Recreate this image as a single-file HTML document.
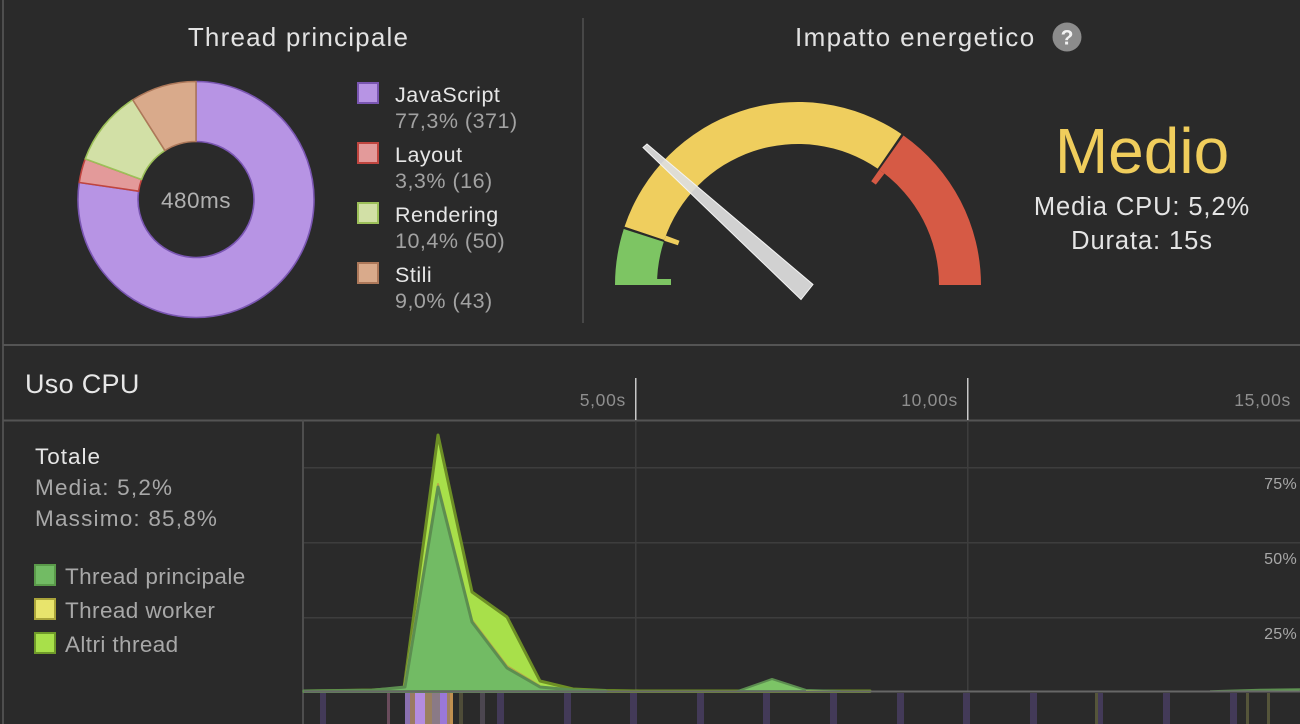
<!DOCTYPE html>
<html><head><meta charset="utf-8"><style>
html,body{margin:0;padding:0;background:#2a2a2a;}
svg{display:block;}
text{font-family:"Liberation Sans",sans-serif;}
</style></head><body>
<svg width="1300" height="724" viewBox="0 0 1300 724" xmlns="http://www.w3.org/2000/svg">
<rect width="1300" height="724" fill="#2a2a2a"/>
<!-- frame lines -->
<rect x="2" y="0" width="2" height="724" fill="#4e4e4e"/>
<rect x="582" y="18" width="2" height="305" fill="#474747"/>
<rect x="3" y="344" width="1297" height="2" fill="#545454"/>
<rect x="3" y="419.5" width="1297" height="2" fill="#545454"/>
<rect x="302" y="420" width="2" height="304" fill="#4e4e4e"/>

<!-- Thread principale -->
<text x="298.5" y="46" text-anchor="middle" font-size="26" letter-spacing="1.2" fill="#e2e2e2">Thread principale</text>
<g stroke-width="1.6" stroke-linejoin="round">
<path d="M196,81.5 A118,118 0 1 1 79.23,182.51 L138.60,191.15 A58,58 0 1 0 196,141.5 Z" fill="#b794e4" stroke="#7a56b2"/>
<path d="M79.23,182.51 A118,118 0 0 1 85.23,158.84 L141.55,179.51 A58,58 0 0 0 138.60,191.15 Z" fill="#e39a9a" stroke="#c0453f"/>
<path d="M85.23,158.84 A118,118 0 0 1 132.77,99.87 L164.92,150.53 A58,58 0 0 0 141.55,179.51 Z" fill="#d2e0a6" stroke="#9cc059"/>
<path d="M132.77,99.87 A118,118 0 0 1 196,81.5 L196,141.5 A58,58 0 0 0 164.92,150.53 Z" fill="#d9aa8b" stroke="#ad785a"/>
</g>
<text x="196" y="208" text-anchor="middle" font-size="22.5" letter-spacing="0.5" fill="#b0b0b0">480ms</text>

<g font-size="21.5" letter-spacing="0.5">
<rect x="358" y="83" width="20" height="20" fill="#b794e4" stroke="#7a56b2" stroke-width="2"/>
<text x="395" y="102" fill="#e6e6e6">JavaScript</text>
<text x="395" y="128" fill="#a2a2a2">77,3% (371)</text>
<rect x="358" y="143" width="20" height="20" fill="#e39a9a" stroke="#c0453f" stroke-width="2"/>
<text x="395" y="162" fill="#e6e6e6">Layout</text>
<text x="395" y="188" fill="#a2a2a2">3,3% (16)</text>
<rect x="358" y="203" width="20" height="20" fill="#d2e0a6" stroke="#9cc059" stroke-width="2"/>
<text x="395" y="222" fill="#e6e6e6">Rendering</text>
<text x="395" y="248" fill="#a2a2a2">10,4% (50)</text>
<rect x="358" y="263" width="20" height="20" fill="#d9aa8b" stroke="#ad785a" stroke-width="2"/>
<text x="395" y="282" fill="#e6e6e6">Stili</text>
<text x="395" y="308" fill="#a2a2a2">9,0% (43)</text>
</g>

<!-- Impatto energetico -->
<text x="795" y="46" font-size="26" letter-spacing="1.4" fill="#e2e2e2">Impatto energetico</text>
<circle cx="1067" cy="37" r="14.5" fill="#8c8c8c"/>
<text x="1067" y="44.5" text-anchor="middle" font-size="21" font-weight="bold" fill="#f2f2f2">?</text>

<path d="M615,285 A183,183 0 0 1 623.77,229.06 L663.75,241.90 A141,141 0 0 0 657,285 Z" fill="#7dc563"/>
<polygon points="657,279 671,279 671,285 657,285" fill="#7dc563"/>
<path d="M624.55,226.62 A183,183 0 0 1 901.40,134.0 L877.67,168.66 A141,141 0 0 0 664.36,240.02 Z" fill="#efce5e"/>
<polygon points="664.13,240.73 677.90,245.28 679.51,240.70 665.93,235.62" fill="#efce5e"/>
<path d="M903.48,135.47 A183,183 0 0 1 981,285 L939,285 A141,141 0 0 0 879.27,169.79 Z" fill="#d65a45"/>
<polygon points="879.27,169.79 871.20,181.23 875.84,184.64 884.42,173.58" fill="#d65a45"/>
<polygon points="643,147.5 647,144 813,284.5 801,299.5" fill="#dedede" fill-opacity="0.93" stroke="#f4f4f4" stroke-width="1"/>

<text x="1142" y="173" text-anchor="middle" font-size="64" fill="#f0cd5c">Medio</text>
<text x="1142" y="215" text-anchor="middle" font-size="25.5" letter-spacing="0.9" fill="#e4e4e4">Media CPU: 5,2%</text>
<text x="1142" y="249" text-anchor="middle" font-size="25.5" letter-spacing="0.9" fill="#e4e4e4">Durata: 15s</text>

<!-- Uso CPU header -->
<text x="25" y="393" font-size="27" letter-spacing="0.3" fill="#e6e6e6">Uso CPU</text>
<g font-size="17.5" fill="#8e8e8e" text-anchor="end" letter-spacing="0.7">
<text x="626" y="406">5,00s</text>
<text x="958" y="406">10,00s</text>
<text x="1291" y="406">15,00s</text>
</g>
<rect x="635" y="378" width="1.5" height="42" fill="#c8c8c8"/>
<rect x="967" y="378" width="1.5" height="42" fill="#c8c8c8"/>

<!-- grid -->
<g fill="#3d3d3d">
<rect x="304" y="467" width="996" height="1.5"/>
<rect x="304" y="542" width="996" height="1.5"/>
<rect x="304" y="617" width="996" height="1.5"/>
<rect x="635" y="421" width="1.5" height="270"/>
<rect x="967" y="421" width="1.5" height="270"/>
</g>
<g font-size="16" fill="#a8a8a8" text-anchor="end" letter-spacing="0.3">
<text x="1297" y="489">75%</text>
<text x="1297" y="564">50%</text>
<text x="1297" y="639">25%</text>
</g>

<!-- left panel -->
<text x="35" y="464" font-size="22.5" letter-spacing="1" fill="#e6e6e6">Totale</text>
<text x="35" y="495" font-size="22.5" fill="#a8a8a8" letter-spacing="1.2">Media: 5,2%</text>
<text x="35" y="526" font-size="22.5" fill="#a8a8a8" letter-spacing="1.2">Massimo: 85,8%</text>
<rect x="35" y="565" width="20" height="20" fill="#72bb64" stroke="#5a9a4a" stroke-width="2"/>
<text x="65" y="584" font-size="22.5" fill="#a8a8a8" letter-spacing="0.4">Thread principale</text>
<rect x="35" y="599" width="20" height="20" fill="#e8e46c" stroke="#aaa43a" stroke-width="2"/>
<text x="65" y="618" font-size="22.5" fill="#a8a8a8" letter-spacing="0.4">Thread worker</text>
<rect x="35" y="633" width="20" height="20" fill="#a8e04a" stroke="#6f9a2a" stroke-width="2"/>
<text x="65" y="652" font-size="22.5" fill="#a8a8a8" letter-spacing="0.4">Altri thread</text>

<!-- CPU chart -->
<path d="M304,691 L372,690 L404,688 L438,435 L472,592 L507,617 L540,681 L573,689 L606,690.5 L640,691 L870,691 L870,691.5 L304,691.5 Z" fill="#a8e04a" stroke="#6d8f25" stroke-width="3" stroke-linejoin="round"/>
<path d="M404,688 L438,484 L472,620 L507,666 L540,686" fill="none" stroke="#b8a848" stroke-width="2" stroke-linejoin="round"/>
<path d="M304,691 L372,690.3 L405,687 L438,487 L472,622 L507,668 L540,687 L573,690 L606,691 L606,691.5 L304,691.5 Z" fill="#72bb64" stroke="#5c8e50" stroke-width="3" stroke-linejoin="round"/>
<path d="M738,691 L772,679 L806,690 L840,691 Z" fill="#7cc466" stroke="#5c8e50" stroke-width="2" stroke-linejoin="round"/>
<path d="M806,690 L870,691 L806,691 Z" fill="#a8e04a"/>
<path d="M1210,691 L1260,689.5 L1300,689 L1300,691 Z" fill="#72bb64" stroke="#5c8e50" stroke-width="1.5"/>
<rect x="304" y="690.5" width="996" height="2" fill="#676767"/>

<!-- event strip -->
<g>
<rect x="320" y="693" width="6" height="31" fill="#433a58"/>
<rect x="387" y="693" width="3" height="31" fill="#6a4c5c"/>
<rect x="405" y="693" width="5" height="31" fill="#8a70b0"/>
<rect x="410" y="693" width="5" height="31" fill="#9a7a62"/>
<rect x="415" y="693" width="10" height="31" fill="#b38ce0"/>
<rect x="425" y="693" width="7" height="31" fill="#9a8060"/>
<rect x="432" y="693" width="8" height="31" fill="#8a7a86"/>
<rect x="440" y="693" width="7" height="31" fill="#9a78d8"/>
<rect x="447" y="693" width="3" height="31" fill="#a08060"/>
<rect x="450" y="693" width="3" height="31" fill="#c09050"/>
<rect x="459" y="693" width="4" height="31" fill="#4e4c38"/>
<rect x="480" y="693" width="5" height="31" fill="#4c4650"/>
<rect x="497" y="693" width="7" height="31" fill="#433a58"/>
<rect x="564" y="693" width="7" height="31" fill="#433a58"/>
<rect x="630" y="693" width="7" height="31" fill="#433a58"/>
<rect x="697" y="693" width="7" height="31" fill="#433a58"/>
<rect x="763" y="693" width="7" height="31" fill="#433a58"/>
<rect x="830" y="693" width="7" height="31" fill="#433a58"/>
<rect x="897" y="693" width="7" height="31" fill="#433a58"/>
<rect x="963" y="693" width="7" height="31" fill="#433a58"/>
<rect x="1030" y="693" width="7" height="31" fill="#433a58"/>
<rect x="1095" y="693" width="3" height="31" fill="#55553a"/>
<rect x="1098" y="693" width="5" height="31" fill="#433a58"/>
<rect x="1163" y="693" width="7" height="31" fill="#433a58"/>
<rect x="1230" y="693" width="7" height="31" fill="#433a58"/>
<rect x="1246" y="693" width="3" height="31" fill="#55553a"/>
<rect x="1267" y="693" width="3" height="31" fill="#55553a"/>
</g>
</svg>
</body></html>
